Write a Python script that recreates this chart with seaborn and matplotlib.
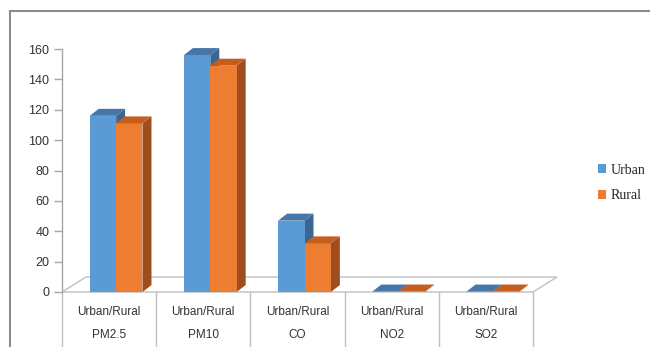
import pandas as pd
import matplotlib.pyplot as plt
import matplotlib.transforms as mtransforms
import seaborn as sns
from matplotlib.patches import Polygon, Rectangle

pollutants = ['PM2.5', 'PM10', 'CO', 'NO2', 'SO2']
urban = [116, 156, 47, 0.3, 0.3]
rural = [111, 149, 32, 0.3, 0.3]
yticks = [0, 20, 40, 60, 80, 100, 120, 140, 160]

blue, blue_top, blue_side = '#5B9BD5', '#4677A8', '#3B6690'
orange, orange_top, orange_side = '#ED7D31', '#C45E1F', '#9E4E1C'

df = pd.DataFrame({
    'pollutant': pollutants * 2,
    'value': urban + rural,
    'area': ['Urban'] * len(urban) + ['Rural'] * len(rural),
})

sns.set_style('white')
plt.rcParams['font.family'] = ['Liberation Sans', 'DejaVu Sans']

W, H = 650, 347
fig = plt.figure(figsize=(W / 100, H / 100), dpi=100)
# axes: x from 62 to 533 px, y from 292 (0) to 49 (160)
ax = fig.add_axes([62 / W, (H - 292) / H, (533 - 62) / W, (292 - 49) / H])

sns.barplot(data=df, x='pollutant', y='value', hue='area',
            palette=[blue, orange], width=0.56, saturation=1,
            edgecolor='none', ax=ax, zorder=3)

ax.set_xlim(-0.5, len(pollutants) - 0.5)
ax.set_ylim(0, 160)

# pixel -> data unit conversions
ux = (533 - 62) / len(pollutants)
uy = (292 - 49) / 160

# floor of the 3d box
fdx, fdy = 24 / ux, 15 / uy
floor = Polygon([(-0.5, 0), (4.5, 0), (4.5 + fdx, fdy), (-0.5 + fdx, fdy)],
                closed=True, facecolor='white', edgecolor='#BFBFBF',
                lw=1, zorder=1, clip_on=False)
ax.add_patch(floor)

# give the bars a depth: top and side faces
shift = 7 / ux
ddx, ddy = 9 / ux, 7 / uy
n = len(pollutants)
for i, bar in enumerate(ax.patches[:2 * n]):
    if not isinstance(bar, Rectangle):
        continue
    is_urban = i < n
    z = 3 if is_urban else 5
    bar.set_x(bar.get_x() + shift)
    bar.set_zorder(z)
    bar.set_clip_on(False)
    x0 = bar.get_x()
    x1 = x0 + bar.get_width()
    h = bar.get_height()
    top_c = blue_top if is_urban else orange_top
    side_c = blue_side if is_urban else orange_side
    ax.add_patch(Polygon([(x0, h), (x1, h), (x1 + ddx, h + ddy), (x0 + ddx, h + ddy)],
                         closed=True, facecolor=top_c, edgecolor='none',
                         zorder=z, clip_on=False))
    ax.add_patch(Polygon([(x1, 0), (x1, h), (x1 + ddx, h + ddy), (x1 + ddx, ddy)],
                         closed=True, facecolor=side_c, edgecolor='none',
                         zorder=z - 0.5, clip_on=False))

# axes styling
for s in ['top', 'right', 'bottom']:
    ax.spines[s].set_visible(False)
ax.spines['left'].set_color('#A6A6A6')
ax.spines['left'].set_linewidth(1)
ax.set_yticks(yticks)
ax.tick_params(axis='y', length=6, width=1, color='#A6A6A6', labelsize=9,
               labelcolor='#333333', left=True, pad=3)
ax.set_xticks([])
ax.set_xlabel('')
ax.set_ylabel('')

# category table below the floor
trans = mtransforms.blended_transform_factory(ax.transData, ax.transAxes)
y_bot = -(H - 292) / (292 - 49)
for k in range(n + 1):
    ax.plot([k - 0.5, k - 0.5], [0, y_bot], transform=trans, color='#BFBFBF',
            lw=1, clip_on=False, zorder=1)
y1 = -(312 - 292) / (292 - 49)
y2 = -(335 - 292) / (292 - 49)
for k, name in enumerate(pollutants):
    ax.text(k, y1, 'Urban/Rural', transform=trans, ha='center', va='center',
            fontsize=8.5, color='#333333')
    ax.text(k, y2, name, transform=trans, ha='center', va='center',
            fontsize=8.5, color='#333333')

# legend
sns.move_legend(ax, loc='center left', bbox_to_anchor=(588 / W, 1 - 183 / H),
                bbox_transform=fig.transFigure, frameon=False, title=None,
                handlelength=0.6, handleheight=0.6, handletextpad=0.3,
                labelspacing=0.9, borderpad=0.2,
                prop={'family': 'Liberation Serif', 'size': 10})

# chart border
fig.add_artist(Rectangle((10 / W, -0.1), 1.2, 1.1 - 11 / H, transform=fig.transFigure,
                         fill=False, edgecolor='#8C8C8C', lw=1.5))

fig.savefig('out.png', dpi=100)
